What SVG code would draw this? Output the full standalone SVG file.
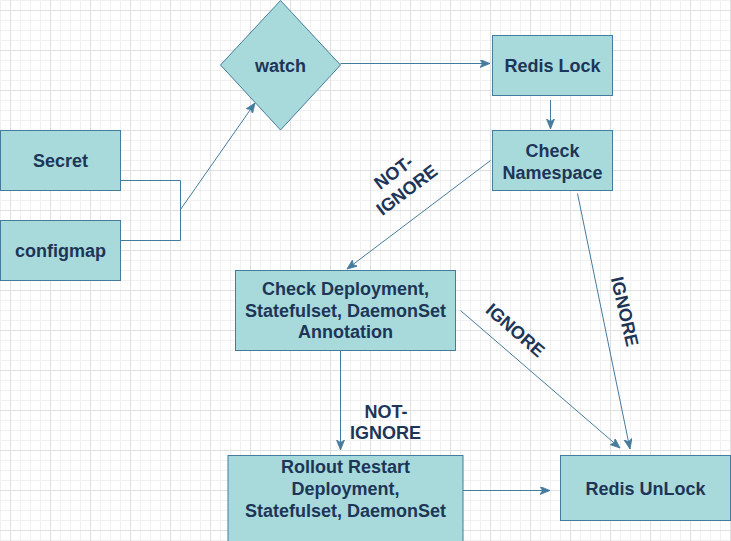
<svg xmlns="http://www.w3.org/2000/svg" width="731" height="541" viewBox="0 0 731 541">
<style>
.box{fill:#a8dadc;stroke:#457b9d;stroke-width:1}
.t{font-family:"Liberation Sans",Arial,Helvetica,sans-serif;font-weight:bold;font-size:18px;fill:#1d3557;text-anchor:middle}
.c{fill:none;stroke:#457b9d;stroke-width:1}
.a{marker-end:url(#arr)}
</style>
<defs>
<pattern id="grid" x="10" y="10" width="40" height="40" patternUnits="userSpaceOnUse">
<path d="M10.5,0V40M20.5,0V40M30.5,0V40M0,10.5H40M0,20.5H40M0,30.5H40" stroke="#f1f1f1" stroke-width="1" fill="none"/>
<path d="M0.5,0V40M0,0.5H40" stroke="#e0e0e0" stroke-width="1" fill="none"/>
</pattern>
<marker id="arr" markerUnits="userSpaceOnUse" markerWidth="12" markerHeight="10" refX="10" refY="4" orient="auto" viewBox="0 0 12 10">
<path d="M0,0 L10,4 L0,8 L2.5,4 Z" fill="#457b9d" stroke="#457b9d" stroke-width="0.8"/>
</marker>
</defs>
<rect width="731" height="541" fill="#ffffff"/>
<rect width="731" height="541" fill="url(#grid)"/>

<g id="connectors">
<path class="c" d="M120.5,180.5H180.5V240.5H120.5"/>
<path class="c a" d="M180.5,209.5L255,103"/>
<path class="c a" d="M340.5,63.5H490"/>
<path class="c a" d="M550.5,100V129"/>
<path class="c a" d="M490.5,160.5L347,269"/>
<path class="c a" d="M577.5,193.5L630,449"/>
<path class="c a" d="M460.5,310.5L620,448"/>
<path class="c a" d="M340.5,350.5V450"/>
<path class="c a" d="M463,490.5H550"/>
<g transform="translate(400,181) rotate(-37)"><text class="t" x="0" y="-4.5">NOT-</text><text class="t" x="0" y="17.5">IGNORE</text></g>
<g transform="translate(515.5,330) rotate(41)"><text class="t" x="0" y="6.5">IGNORE</text></g>
<g transform="translate(625,311.5) rotate(77)"><text class="t" x="0" y="6.5">IGNORE</text></g>
<text class="t" x="386" y="417.5">NOT-</text>
<text class="t" x="385.5" y="438.5">IGNORE</text>
</g>

<g id="secret"><rect class="box" x="0.5" y="130.5" width="120" height="60"/><text class="t" x="60.5" y="166.5">Secret</text></g>
<g id="configmap"><rect class="box" x="0.5" y="220.5" width="120" height="60"/><text class="t" x="60.5" y="256.5">configmap</text></g>
<g id="watch"><path class="box" d="M280.5,0.5L340.5,65L280.5,130L220.5,65Z"/><text class="t" x="280.5" y="71.5">watch</text></g>
<g id="redis-lock"><rect class="box" x="492.5" y="35.5" width="120" height="60"/><text class="t" x="552.5" y="71.5">Redis Lock</text></g>
<g id="check-namespace"><rect class="box" x="492.5" y="130.5" width="120" height="60"/><text class="t" x="552.5" y="156.5">Check</text><text class="t" x="552.5" y="178.5">Namespace</text></g>
<g id="check-deployment"><rect class="box" x="235.5" y="270.5" width="220" height="80"/><text class="t" x="345.5" y="295">Check Deployment,</text><text class="t" x="345.5" y="316.5">Statefulset, DaemonSet</text><text class="t" x="345.5" y="338">Annotation</text></g>
<g id="rollout-restart"><rect class="box" x="228" y="455.5" width="235" height="90"/><text class="t" x="345.5" y="472.5">Rollout Restart</text><text class="t" x="345.5" y="494.5">Deployment,</text><text class="t" x="345.5" y="516.5">Statefulset, DaemonSet</text></g>
<g id="redis-unlock"><rect class="box" x="560.5" y="455.5" width="170" height="65"/><text class="t" x="645.5" y="494.5">Redis UnLock</text></g>
</svg>
